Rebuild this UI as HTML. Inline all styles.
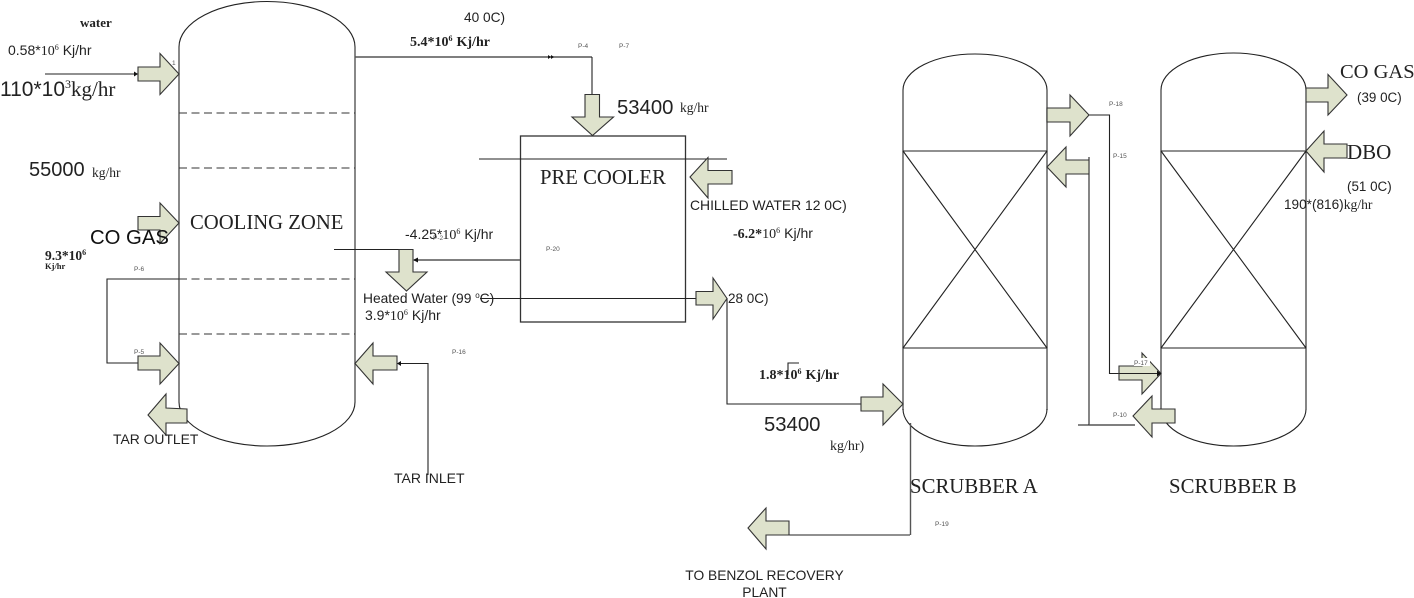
<!DOCTYPE html>
<html>
<head>
<meta charset="utf-8">
<style>
html,body{margin:0;padding:0;background:#fff;width:1414px;height:598px;overflow:hidden}
svg{display:block}
.s{font-family:"Liberation Sans",sans-serif;fill:#222}
.f{font-family:"Liberation Serif",serif;fill:#222}
.b{font-family:"Liberation Serif",serif;font-weight:bold;fill:#222}
.p{font-family:"Liberation Sans",sans-serif;font-size:6.5px;fill:#555}
.a{fill:#dee2cc;stroke:#333;stroke-width:1.1}
.l{fill:none;stroke:#222;stroke-width:1.1}
.g{fill:none;stroke:#555;stroke-width:1.4}
</style>
</head>
<body>
<svg width="1414" height="598" viewBox="0 0 1414 598" xmlns="http://www.w3.org/2000/svg">
<!-- Vessel 1 -->
<path class="g" d="M179 47V402M355 47V402"/>
<path class="l" d="M179 47A88 45.500 0 0 1 355 47M179 402A88 44 0 0 0 355 402"/>
<path d="M179 113H355M179 168H355M179 279H355M179 334H355" fill="none" stroke="#333" stroke-width="1" stroke-dasharray="8 4.500"/>

<!-- Scrubber A -->
<path class="g" d="M903 90V410M1047 90V410"/>
<path class="l" d="M903 90A72 36 0 0 1 1047 90M903 409A72 37 0 0 0 1047 409"/>
<path class="l" d="M903 151H1047M903 348H1047M903 151L1047 348M1047 151L903 348"/>

<!-- Scrubber B -->
<path class="g" d="M1161 90V410"/>
<path class="l" d="M1306 90V410M1161 90A72.500 37 0 0 1 1306 90M1161 409A72.500 37 0 0 0 1306 409"/>
<path class="l" d="M1161 151H1306M1161 348H1306M1161 151L1306 348M1306 151L1161 348"/>

<!-- Pre cooler -->
<rect x="520.500" y="136" width="165" height="186" fill="none" stroke="#333" stroke-width="1.300"/>

<!-- Connectors -->
<path class="l" d="M45 74H138"/>
<path d="M134 71.500L138 74L134 76.500Z" fill="#111"/>
<path class="g" d="M355 57H592"/>
<path class="l" d="M592 57V95"/>
<path d="M548 55V59L551 57ZM551 55V59L554 57Z" fill="#111"/>
<path class="l" d="M179 279H107V363H138"/>
<path class="l" d="M334 249.500H413"/>
<path class="g" d="M520 260H414"/>
<path d="M418 257.500L413 260L418 262.500Z" fill="#111"/>
<path class="l" d="M479 159H727"/>
<path class="l" d="M480 298.500H696"/>
<path class="l" d="M727 298V404H861"/>
<path class="g" d="M910.500 423V535"/>
<path class="l" d="M910 535H789"/>
<path class="l" d="M1089 115H1109.500V373.500H1161"/>
<path class="l" d="M1089 157V425"/>
<path class="l" d="M1078 425H1089"/>
<path class="g" d="M1089 425H1135"/>
<path class="l" d="M397 363.500H428V475"/>
<path d="M401 361L397 363.500L401 366Z" fill="#111"/>
<path class="l" d="M788 375V363H799"/>

<!-- Block arrows -->
<polygon class="a" points="138,67 160,67 160,53.500 179,74 160,94.500 160,81 138,81"/>
<polygon class="a" points="138,216.500 160,216.500 160,203 179,223 160,243.500 160,230 138,230"/>
<polygon class="a" points="138,356 160,356 160,343 179,363.500 160,384 160,370 138,370"/>
<polygon class="a" points="148,415 166,394 166,408 187,409 187,423 166,423 166,435"/>
<polygon class="a" points="355,363.500 373,343 373,356 397,356 397,370 373,370 373,384"/>
<polygon class="a" points="399,249.500 413,249.500 413,272 427,272 406.500,291 386,272 399,272"/>
<polygon class="a" points="585,94.500 599.500,94.500 599.500,117 613.500,117 592.500,135.500 572,117 585,117"/>
<polygon class="a" points="690,177 708,157.500 708,170.500 732,170.500 732,184 708,184 708,198"/>
<polygon class="a" points="696,291.500 713,291.500 713,278 727,298.500 713,319 713,305 696,305"/>
<polygon class="a" points="861,397 883,397 883,384 903,404 883,425 883,411 861,411"/>
<polygon class="a" points="1047,108 1070,108 1070,95 1089,115 1070,136 1070,122 1047,122"/>
<polygon class="a" points="1047,167 1066,147 1066,160 1089,160 1089,174 1066,174 1066,187"/>
<polygon class="a" points="1306,88 1328,88 1328,74.500 1347,95 1328,115 1328,102 1306,102"/>
<polygon class="a" points="1306,151 1324,131 1324,144 1347,144 1347,158 1324,158 1324,172"/>
<polygon class="a" points="1119,366 1142,366 1142,353 1161,373.500 1142,394 1142,380 1119,380"/>
<polygon class="a" points="1133,416 1152,396 1152,409 1175,409 1175,423 1152,423 1152,437"/>
<polygon class="a" points="748,528 766,508 766,521 789,521 789,535 766,535 766,549"/>
<path class="l" d="M1119 373.500H1161"/>
<path d="M1157 370.500L1161 373.500L1157 376.500Z" fill="#111"/>
<rect x="1134" y="358" width="16" height="8" fill="#fff"/>

<!-- Labels -->
<text class="b" x="80" y="27" font-size="13">water</text>
<text x="8" y="55" font-size="14"><tspan class="s">0.58*</tspan><tspan class="f">10</tspan><tspan class="f" font-size="8" dy="-5">6</tspan><tspan class="s" dy="5" dx="4">Kj/hr</tspan></text>
<text x="0" y="96" font-size="21"><tspan class="s">110*10</tspan><tspan class="f" font-size="12" dy="-8">3</tspan><tspan class="f" dy="8">kg/hr</tspan></text>
<text class="s" x="29" y="176" font-size="20">55000</text>
<text class="f" x="92" y="177" font-size="13.500">kg/hr</text>
<text class="f" x="190" y="229" font-size="20.700">COOLING ZONE</text>
<text class="s" x="90" y="244" font-size="20.300" style="fill:#111">CO GAS</text>
<text class="b" x="45" y="260" font-size="13.500">9.3*10<tspan font-size="8" dy="-5">6</tspan></text>
<text class="b" x="45" y="269" font-size="8.500">Kj/hr</text>
<text class="p" x="134" y="271">P-6</text>
<text class="p" x="134" y="354">P-5</text>
<text class="p" x="172" y="65">1</text>
<text class="s" x="113" y="444" font-size="13.900">TAR OUTLET</text>
<text class="s" x="394" y="483" font-size="14">TAR INLET</text>
<text class="p" x="452" y="354">P-16</text>

<text class="s" x="464" y="22" font-size="13.700">40 0C)</text>
<text class="b" x="410" y="46" font-size="14">5.4*10<tspan font-size="8" dy="-5">6</tspan><tspan dy="5" dx="4">Kj/hr</tspan></text>
<text class="p" x="578" y="48">P-4</text>
<text class="p" x="619" y="48">P-7</text>
<text class="s" x="617" y="114" font-size="20.300">53400</text>
<text class="f" x="680" y="112" font-size="13.500">kg/hr</text>
<text class="f" x="540" y="184" font-size="20.700">PRE COOLER</text>
<text x="405" y="239" font-size="14"><tspan class="s">-4.25*</tspan><tspan class="f">10</tspan><tspan class="f" font-size="8" dy="-5">6</tspan><tspan class="s" dy="5" dx="4">Kj/hr</tspan></text>
<text class="p" x="433" y="240">P-2</text>
<text class="p" x="546" y="251">P-20</text>
<text class="s" x="363" y="303" font-size="13.800">Heated Water (99 <tspan font-size="8" dy="-5">o</tspan><tspan dy="5">C)</tspan></text>
<text x="365" y="320" font-size="14"><tspan class="s">3.9*</tspan><tspan class="f">10</tspan><tspan class="f" font-size="8" dy="-5">6</tspan><tspan class="s" dy="5" dx="4">Kj/hr</tspan></text>
<text class="s" x="690" y="210" font-size="13.900">CHILLED WATER 12 0C)</text>
<text x="733" y="238" font-size="14"><tspan class="b">-6.2*</tspan><tspan class="f">10</tspan><tspan class="f" font-size="8" dy="-5">6</tspan><tspan class="s" dy="5" dx="4">Kj/hr</tspan></text>
<text class="s" x="728" y="303" font-size="13.500">28 0C)</text>
<text class="b" x="759" y="379" font-size="14">1.8*10<tspan font-size="8" dy="-5">6</tspan><tspan dy="5" dx="4">Kj/hr</tspan></text>
<text class="s" x="764" y="431" font-size="20.300">53400</text>
<text class="f" x="830" y="450" font-size="14">kg/hr)</text>
<text class="f" x="910" y="493" font-size="20.800">SCRUBBER A</text>
<text class="f" x="1169" y="493" font-size="20.800">SCRUBBER B</text>
<text class="p" x="935" y="526">P-19</text>
<text class="s" x="764.500" y="580" font-size="13.800" text-anchor="middle">TO BENZOL RECOVERY</text>
<text class="s" x="764.500" y="597" font-size="13.800" text-anchor="middle">PLANT</text>
<text class="p" x="1109" y="106">P-18</text>
<text class="p" x="1113" y="158">P-15</text>
<text class="p" x="1134" y="365">P-17</text>
<text class="p" x="1113" y="417">P-10</text>
<text class="f" x="1340" y="78" font-size="20.500">CO GAS</text>
<text class="s" x="1357" y="102" font-size="13.400">(39 0C)</text>
<text class="f" x="1347" y="159" font-size="21">DBO</text>
<text class="s" x="1347" y="191" font-size="13.400">(51 0C)</text>
<text x="1284" y="209" font-size="13.600"><tspan class="s">190*(816)</tspan><tspan class="f">kg/hr</tspan></text>
</svg>
</body>
</html>
